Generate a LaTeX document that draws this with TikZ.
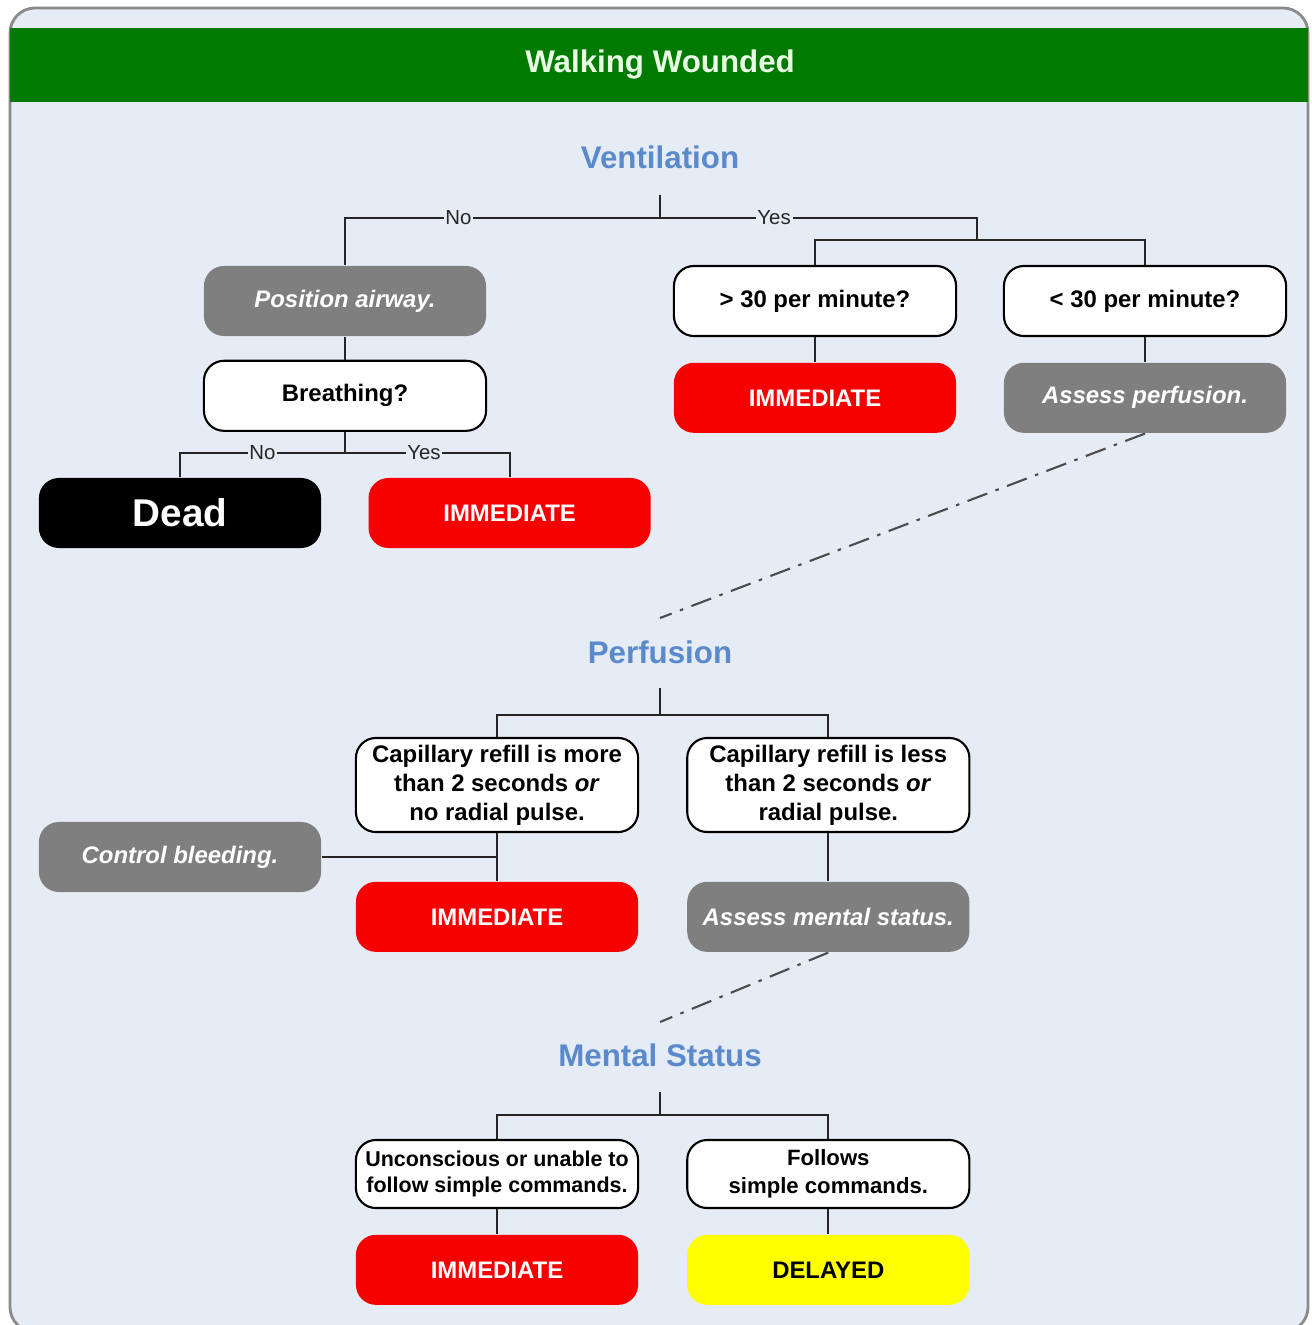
\documentclass[tikz,border=0pt]{standalone}
\usepackage{fontspec}
\setmainfont{Liberation Sans}
\setsansfont{Liberation Sans}
\usepackage{tikz}
\usetikzlibrary{positioning}
\definecolor{panel}{HTML}{E6ECF6}
\definecolor{framegray}{HTML}{8A8A8A}
\definecolor{banner}{HTML}{007A00}
\definecolor{bannertext}{HTML}{E8FFE4}
\definecolor{phaseblue}{HTML}{5A8ACB}
\definecolor{actgray}{HTML}{7F7F7F}
\definecolor{immred}{HTML}{F70000}
\definecolor{delyellow}{HTML}{FFFF00}

\begin{document}
\begin{tikzpicture}[x=0.01cm, y=-0.01cm,
  box/.style={rounded corners=0.2cm, minimum width=2.82cm, minimum height=0.7cm, align=center, inner sep=1pt, font=\sffamily\bfseries\fontsize{6.8}{8.2}\selectfont},
  ask/.style={box, draw=black, line width=0.6pt, fill=white},
  todo/.style={box, fill=actgray, text=white, font=\sffamily\bfseries\itshape\fontsize{6.8}{8.2}\selectfont},
  immed/.style={box, fill=immred, text=white},
  phase/.style={font=\sffamily\bfseries\fontsize{8.9}{10}\selectfont, text=phaseblue},
  yn/.style={fill=panel, inner sep=0.5pt, font=\sffamily\fontsize{5.8}{6}\selectfont},
  link/.style={line width=0.6pt, black!85},
  hint/.style={line width=0.6pt, black!70, dash pattern=on 6pt off 2.5pt on 1pt off 2.5pt}
]
  \useasboundingbox (0,0) rectangle (1311,1325);
  \fill[white] (0,0) rectangle (1311,1325);
  \draw[framegray, line width=0.8pt, fill=panel, rounded corners=0.25cm] (10,8) rectangle (1308,1332);
  \fill[banner] (10,28) rectangle (1308,102);
  \node[font=\sffamily\bfseries\fontsize{8.9}{10}\selectfont, text=bannertext] (title) at (660,64) {Walking Wounded};

  % ventilation
  \node[phase] (vent) at (660,157) {Ventilation};
  \coordinate (vstub) at (660,195);
  \coordinate (vj) at (660,218);
  \coordinate (yj) at (977,240);
  \node[todo] (airway) at (345,301) {Position airway.};
  \node[ask, below=0.23cm of airway] (breath) {Breathing?};
  \node[box, fill=black, text=white, font=\sffamily\bfseries\fontsize{11}{13}\selectfont] (dead) at (180,513) {Dead};
  \node[immed, right=0.46cm of dead] (immb) {IMMEDIATE};
  \coordinate (bj) at (345,453);
  \node[ask] (fast) at (815,301) {> 30 per minute?};
  \node[ask] (slow) at (1145,301) {< 30 per minute?};
  \node[immed, below=0.25cm of fast] (immv) {IMMEDIATE};
  \node[todo, below=0.25cm of slow] (assessp) {Assess perfusion.};

  \draw[link] (vstub) -- (vj);
  \draw[link] (vj) -| node[yn, pos=0.32] {No} (airway.north);
  \draw[link] (vj) -| node[yn, pos=0.18] {Yes} (yj);
  \draw[link] (yj) -| (fast.north);
  \draw[link] (yj) -| (slow.north);
  \draw[link] (airway) -- (breath);
  \draw[link] (breath.south) -- (bj);
  \draw[link] (bj) -| node[yn, pos=0.25] {No} (dead.north);
  \draw[link] (bj) -| node[yn, pos=0.24] {Yes} (immb.north);
  \draw[link] (fast) -- (immv);
  \draw[link] (slow) -- (assessp);
  \coordinate (pin) at (660,618);
  \draw[hint] (assessp.south) -- (pin);

  % perfusion
  \node[phase] (perf) at (660,652) {Perfusion};
  \coordinate (pstub) at (660,688);
  \coordinate (pj) at (660,715);
  \node[ask, minimum height=0.94cm] (more) at (497,785) {Capillary refill is more\\than 2 seconds \textit{or}\\no radial pulse.};
  \node[ask, minimum height=0.94cm, right=0.47cm of more] (less) {Capillary refill is less\\than 2 seconds \textit{or}\\radial pulse.};
  \node[immed, below=0.48cm of more] (immp) {IMMEDIATE};
  \node[todo, below=0.48cm of less] (assessm) {Assess mental status.};
  \node[todo] (bleed) at (180,857) {Control bleeding.};

  \draw[link] (pstub) -- (pj);
  \draw[link] (pj) -| (more.north);
  \draw[link] (pj) -| (less.north);
  \draw[link] (more) -- (immp);
  \draw[link] (less) -- (assessm);
  \draw[link] (bleed) -- (bleed -| more.south);
  \coordinate (min) at (660,1022);
  \draw[hint] (assessm.south) -- (min);

  % mental status
  \node[phase] (mental) at (660,1055) {Mental Status};
  \coordinate (mstub) at (660,1092);
  \coordinate (mj) at (660,1115);
  \node[ask, minimum height=0.68cm, font=\sffamily\bfseries\fontsize{6.1}{7.4}\selectfont] (uncon) at (497,1174) {Unconscious or unable to\\follow simple commands.};
  \node[ask, minimum height=0.68cm, font=\sffamily\bfseries\fontsize{6.3}{8}\selectfont, right=0.47cm of uncon] (follow) {Follows\\simple commands.};
  \node[immed, below=0.25cm of uncon] (immm) {IMMEDIATE};
  \node[box, fill=delyellow, text=black, below=0.25cm of follow] (delayed) {DELAYED};

  \draw[link] (mstub) -- (mj);
  \draw[link] (mj) -| (uncon.north);
  \draw[link] (mj) -| (follow.north);
  \draw[link] (uncon) -- (immm);
  \draw[link] (follow) -- (delayed);
\end{tikzpicture}
\end{document}
